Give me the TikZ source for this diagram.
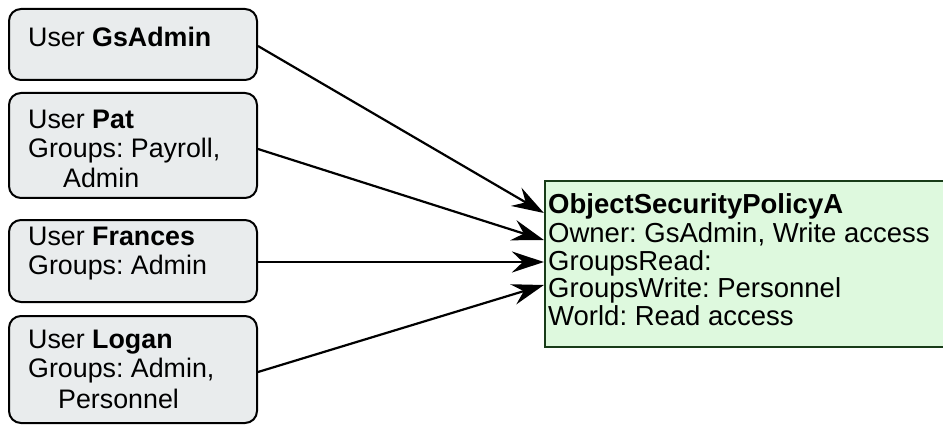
\documentclass[tikz,border=0pt]{standalone}
\usepackage{fontspec}
\setmainfont{Liberation Sans}
\usetikzlibrary{arrows.meta}
\frenchspacing
\definecolor{boxgray}{RGB}{233,236,237}
\definecolor{polgreen}{RGB}{222,249,222}
\definecolor{poledge}{RGB}{24,60,24}
\tikzset{
  userbox/.style={draw=black, line width=2pt, fill=boxgray, rounded corners=12pt,
    minimum width=248pt, inner sep=0pt},
  polbox/.style={draw=poledge, line width=2.2pt, fill=polgreen, inner sep=0pt,
    minimum width=420pt, minimum height=166pt},
  utext/.style={anchor=base west, inner sep=0pt, font=\fontsize{26.8pt}{29pt}\selectfont},
  ptext/.style={anchor=base west, inner sep=0pt, font=\fontsize{27.5pt}{28pt}\selectfont},
  link/.style={draw=black, line width=2.2pt, -{Stealth[length=32pt,width=21pt,inset=11pt]}}
}
\begin{document}
\begin{tikzpicture}[x=1pt,y=-1pt]
\useasboundingbox (0,0) rectangle (943,425);
% user boxes
\node[userbox, minimum height=71pt] (gs) at (133,44.5) {};
\node[userbox, minimum height=105pt] (pat) at (133,145.5) {};
\node[userbox, minimum height=82pt] (fr) at (133,261) {};
\node[userbox, minimum height=107pt] (lo) at (133,369.5) {};
% policy box
\node[polbox] (pol) at (755,264) {};
% texts
\node[utext] (gs1) at (28,47) {User \textbf{GsAdmin}};
\node[utext] (pat1) at (28,129) {User \textbf{Pat}};
\node[utext] (pat2) at (28,158) {Groups: Payroll,};
\node[utext] (pat3) at (63,187) {Admin};
\node[utext] (fr1) at (28,245) {User \textbf{Frances}};
\node[utext] (fr2) at (28,274) {Groups: Admin};
\node[utext] (lo1) at (28,348) {User \textbf{Logan}};
\node[utext] (lo2) at (28,377) {Groups: Admin,};
\node[utext] (lo3) at (58,408) {Personnel};
\node[ptext] (po1) at (548,214) {\textbf{ObjectSecurityPolicyA}};
\node[ptext] (po2) at (548,242) {Owner: GsAdmin, Write access};
\node[ptext] (po3) at (548,270) {GroupsRead:};
\node[ptext] (po4) at (548,297) {GroupsWrite: Personnel};
\node[ptext] (po5) at (548,325) {World: Read access};
% connectors
\draw[link] ([yshift=-1.5pt]gs.east) -- ([yshift=51pt]pol.west);
\draw[link] ([yshift=-3.5pt]pat.east) -- ([yshift=24pt]pol.west);
\draw[link] ([yshift=-1pt]fr.east) -- ([yshift=2pt]pol.west);
\draw[link] ([yshift=-2.5pt]lo.east) -- ([yshift=-21pt]pol.west);
\end{tikzpicture}
\end{document}
